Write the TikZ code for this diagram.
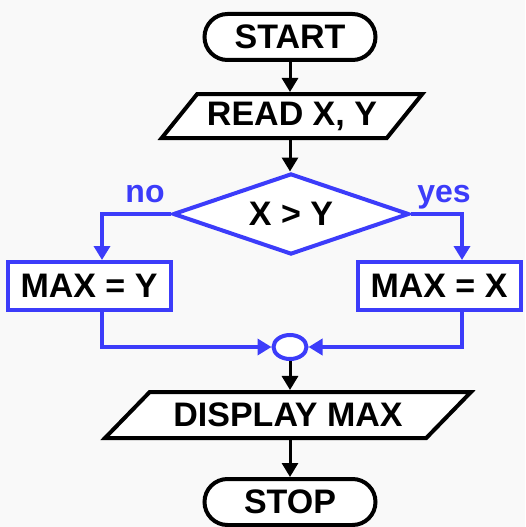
\documentclass[tikz,border=0pt]{standalone}
\usepackage{fontspec}
\setmainfont{Liberation Sans}
\usetikzlibrary{shapes.geometric, arrows.meta}
\definecolor{flowblue}{RGB}{60,60,250}
\definecolor{paper}{RGB}{249,249,249}
\newcommand{\boxlw}{4pt}
\newcommand{\boxfont}{\fontsize{34}{40}\selectfont\bfseries}

\tikzset{
    terminal/.style={draw, line width=\boxlw, fill=white, rectangle, rounded corners=23pt,
        minimum width=171pt, minimum height=46pt, inner sep=0pt, font=\boxfont},
    io/.style={draw, line width=\boxlw, fill=white, trapezium, trapezium stretches=true,
        trapezium left angle=#1, trapezium right angle={180-#1}, inner sep=0pt, font=\boxfont},
    decision/.style={draw=flowblue, line width=\boxlw, fill=white, diamond, aspect=2.8,
        minimum width=236pt, minimum height=81pt, inner sep=0pt, font=\boxfont},
    process/.style={draw=flowblue, line width=\boxlw, fill=white, rectangle,
        minimum width=163pt, minimum height=48pt, inner sep=0pt, font=\boxfont},
    junction/.style={draw=flowblue, line width=\boxlw, fill=white, ellipse,
        minimum width=33pt, minimum height=24pt, inner sep=0pt},
    branch/.style={text=flowblue, font=\fontsize{32}{36}\selectfont\bfseries, inner sep=0pt, anchor=base},
    arrow/.style={line width=3pt, -{Triangle[width=16pt, length=14pt]}},
    bluearrow/.style={draw=flowblue, line width=4pt, -{Triangle[width=16pt, length=14pt]}}
}

\begin{document}
\begin{tikzpicture}[x=1pt, y=-1pt]

    \fill[paper] (0, 0) rectangle (525, 527);
    \useasboundingbox (0, 0) rectangle (525, 527);

    \node[terminal] (start) at (290, 37) {START};
    \node[io=42, minimum width=261pt, minimum height=44pt] (read) at (292, 116) {READ X, Y};
    \node[decision] (test) at (291, 214) {X > Y};
    \node[process] (maxy) at (89, 286) {MAX = Y};
    \node[process] (maxx) at (439, 286) {MAX = X};
    \node[junction] (join) at (290, 347) {};
    \node[io=33, minimum width=366pt, minimum height=46pt] (show) at (288, 415) {DISPLAY MAX};
    \node[terminal] (stop) at (290, 502) {STOP};

    \node[branch] (no) at (145, 202) {no};
    \node[branch] (yes) at (444, 202) {yes};

    \draw[arrow] (start.south) -- (start.south |- read.north);
    \draw[arrow] (start.south |- read.south) -- (start.south |- test.north);

    \draw[bluearrow] (test.west) -| ([xshift=13pt]maxy.north);
    \draw[bluearrow] (test.east) -| ([xshift=23pt]maxx.north);
    \draw[bluearrow] ([xshift=13pt]maxy.south) |- (join.west);
    \draw[bluearrow] ([xshift=23pt]maxx.south) |- (join.east);

    \draw[arrow] (join.south) -- (join.south |- show.north);
    \draw[arrow] (join.south |- show.south) -- (join.south |- stop.north);

\end{tikzpicture}
\end{document}
